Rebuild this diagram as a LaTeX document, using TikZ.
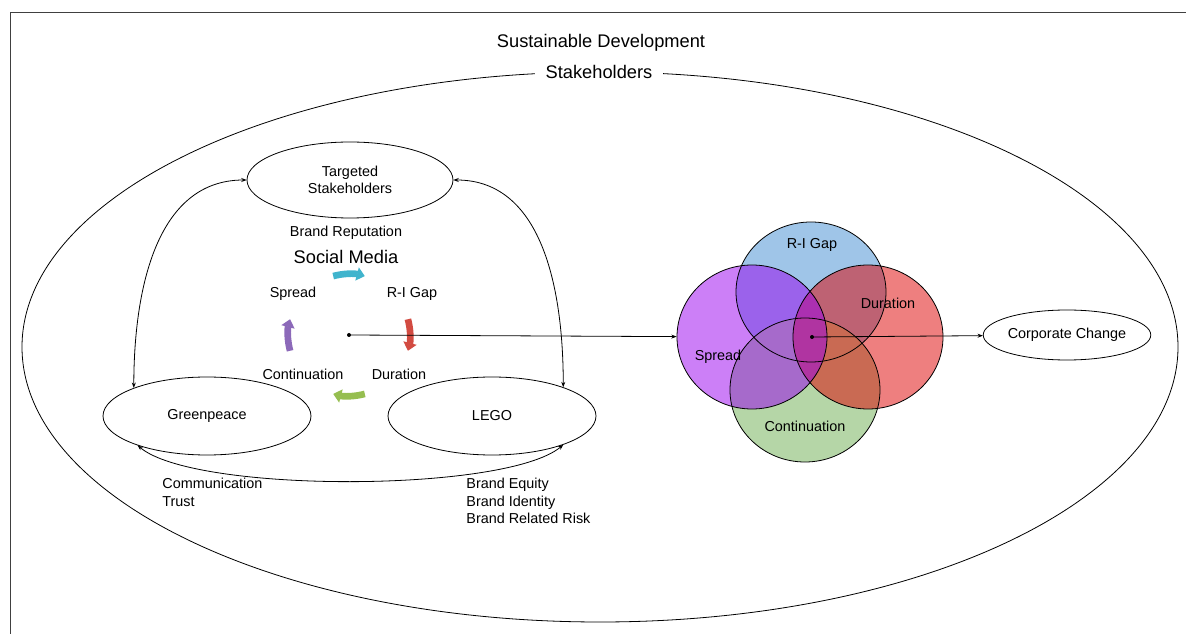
\documentclass[tikz,border=0pt]{standalone}
\usepackage{fontspec}
\setmainfont{Liberation Sans}
\usetikzlibrary{shapes.geometric,arrows.meta}
\definecolor{gapblue}{RGB}{159,197,232}
\definecolor{contgreen}{RGB}{181,214,167}
\definecolor{durred}{RGB}{221,0,0}
\definecolor{sprpurple}{RGB}{153,0,239}
\definecolor{flowcyan}{RGB}{64,180,205}
\definecolor{flowred}{RGB}{210,75,65}
\definecolor{flowgreen}{RGB}{150,190,80}
\definecolor{flowpurple}{RGB}{140,105,185}
\begin{document}
\begin{tikzpicture}[x=0.75pt, y=-0.75pt, line width=0.6pt,
    every node/.style={font=\fontsize{10.8}{13}\selectfont},
    big/.style={font=\fontsize{13.7}{16}\selectfont},
    actor/.style={ellipse, draw, minimum width=156pt, minimum height=58.5pt, align=center, inner sep=0pt},
    venn/.style={ellipse, minimum width=112.5pt, minimum height=108pt, inner sep=0pt},
    tip/.style={-{Stealth[length=4pt,width=3pt]}},
    link/.style={{Stealth[length=4pt,width=3pt]}-{Stealth[length=4pt,width=3pt]}},
    flow/.style={line width=5pt, -{Triangle[length=6pt,width=10pt]}, draw=#1}]
    \useasboundingbox (0,0) rectangle (1186,634);
    \draw[black!75] (10,634) -- (10,12) -- (1186,12);

    \draw (600,347) ellipse [x radius=578, y radius=275];
    \node[big] (sd) at (601,43) {Sustainable Development};
    \node[big, fill=white, inner xsep=8pt] (sh) at (599,72) {Stakeholders};

    \node[actor, minimum width=154.5pt, minimum height=57pt] (ts) at (350,180) {Targeted\\Stakeholders};
    \node[actor] (gp) at (207,416) {Greenpeace};
    \node[actor] (lego) at (492,416) {LEGO};
    \node[actor, minimum width=117pt, minimum height=37.5pt] (cc) at (1067,335) {Corporate Change};

    \draw[link] (gp.159) to[out=90, in=180] (ts.west);
    \draw[link] (ts.east) to[out=0, in=90] (lego.22);
    \draw[link] (gp.203) to[out=-40, in=-140, looseness=0.45] (lego.338);

    \node (rep) at (346,233) {Brand Reputation};
    \node[big] (sm) at (346,257) {Social Media};
    \node (spreadlbl) at (293,294) {Spread};
    \node (gaplbl) at (412,294) {R-I Gap};
    \node (contlbl) at (303,374) {Continuation};
    \node (durlbl) at (399,374) {Duration};

    \coordinate (hub) at (349,335);
    \draw[flow=flowcyan] ([shift={(105:45.75pt)}]hub) arc[start angle=105, end angle=75, radius=45.75pt];
    \draw[flow=flowred] ([shift={(15:45.75pt)}]hub) arc[start angle=15, end angle=-15, radius=45.75pt];
    \draw[flow=flowgreen] ([shift={(-75:45.75pt)}]hub) arc[start angle=-75, end angle=-105, radius=45.75pt];
    \draw[flow=flowpurple] ([shift={(195:45.75pt)}]hub) arc[start angle=195, end angle=165, radius=45.75pt];

    \node[venn, minimum height=105pt, fill=gapblue] (gap) at (811,292) {};
    \node[venn, fill=contgreen] (cont) at (805,390) {};
    \node[venn, fill=durred, fill opacity=.5] (dur) at (868,337) {};
    \node[venn, fill=sprpurple, fill opacity=.5] (spr) at (752,337) {};
    \foreach \c/\ry in {gap/70,cont/72,dur/72,spr/72}
        \draw (\c.center) ellipse [x radius=75, y radius=\ry];
    \node (gaptxt) at (812,245) {R-I Gap};
    \node (durtxt) at (888,303) {Duration};
    \node (sprtxt) at (718,357) {Spread};
    \node (conttxt) at (805,426) {Continuation};

    \fill (hub) circle (2);
    \draw[tip] (hub) -- (spr);
    \coordinate (core) at (812,337);
    \fill (core) circle (2);
    \draw[tip] (core) -- (cc);

    \node[anchor=north west, align=left, inner sep=0pt] (comm) at (162,478) {Communication\\Trust};
    \node[anchor=north west, align=left, inner sep=0pt] (brand) at (466,478) {Brand Equity\\Brand Identity\\Brand Related Risk};
\end{tikzpicture}
\end{document}
